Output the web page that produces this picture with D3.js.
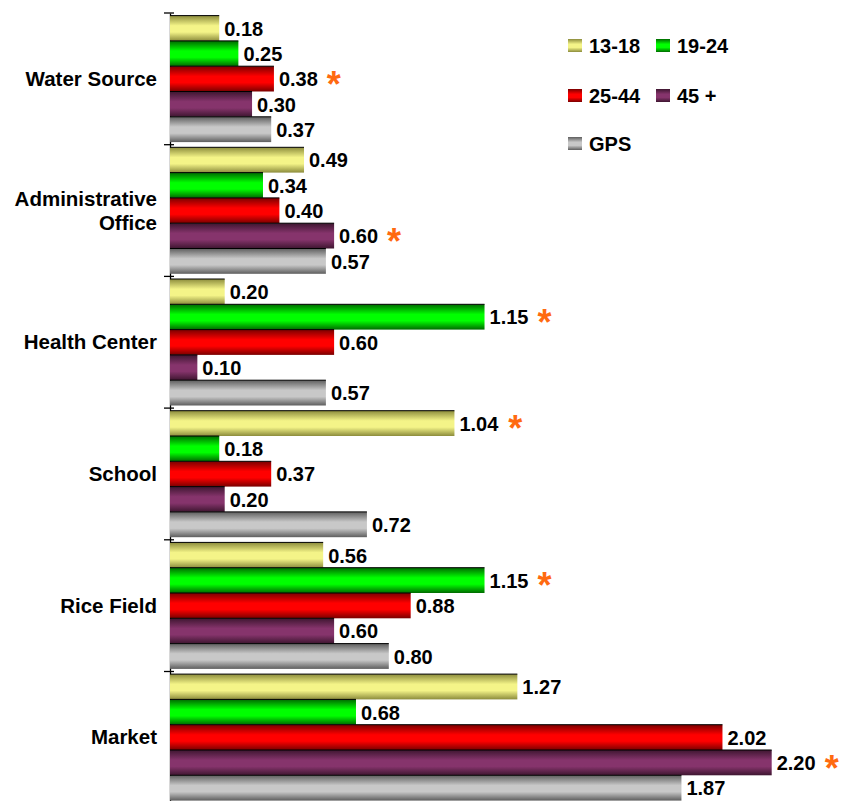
<!DOCTYPE html>
<html>
<head>
<meta charset="utf-8">
<script src="https://cdn.jsdelivr.net/npm/d3@7"></script>
<style>
  body { margin: 0; background: #fff; }
  text { font-family: "Liberation Sans", Arial, sans-serif; font-weight: bold; }
</style>
</head>
<body>
<script>
// categories and series
var categories = ["Water Source", "Administrative Office", "Health Center", "School", "Rice Field", "Market"];
var seriesNames = ["13-18", "19-24", "25-44", "45 +", "GPS"];
var v1318 = [0.18, 0.49, 0.20, 1.04, 0.56, 1.27];
var v1924 = [0.25, 0.34, 1.15, 0.18, 1.15, 0.68];
var v2544 = [0.38, 0.40, 0.60, 0.37, 0.88, 2.02];
var v45   = [0.30, 0.60, 0.10, 0.20, 0.60, 2.20];
var vGPS  = [0.37, 0.57, 0.57, 0.72, 0.80, 1.87];
// which series gets the orange asterisk, per category
var starred = ["25-44", "45 +", "19-24", "13-18", "19-24", "45 +"];

var seriesValues = [v1318, v1924, v2544, v45, vGPS];

// colours: [edge, centre] for the cylinder-like shading
var colors = {
  "13-18": ["#8c8c3c", "#f4f488"],
  "19-24": ["#006a00", "#00ff00"],
  "25-44": ["#7a0000", "#ff0000"],
  "45 +":  ["#3e1630", "#86346c"],
  "GPS":   ["#5e5e5e", "#c8c8c8"]
};

var width = 856, height = 801;
var x0 = 170;

var svg = d3.select("body").append("svg")
  .attr("width", width)
  .attr("height", height);

// gradients
var defs = svg.append("defs");
seriesNames.forEach(function(s, i) {
  var g = defs.append("linearGradient")
    .attr("id", "grad" + i)
    .attr("x1", 0).attr("y1", 0).attr("x2", 0).attr("y2", 1);
  g.append("stop").attr("offset", "0%").attr("stop-color", colors[s][0]);
  g.append("stop").attr("offset", "40%").attr("stop-color", colors[s][1]);
  g.append("stop").attr("offset", "65%").attr("stop-color", colors[s][1]);
  g.append("stop").attr("offset", "100%").attr("stop-color", colors[s][0]);
});

var xScale = d3.scaleLinear()
  .domain([0, 2.5])
  .range([x0, x0 + 2.5 * 273.5]);

var yScale = d3.scaleBand()
  .domain(categories)
  .range([13, 13 + 6 * 131.7])
  .paddingInner(0)
  .paddingOuter(0);

var inner = d3.scaleBand()
  .domain(seriesNames)
  .range([2.6, yScale.bandwidth() - 2.6]);

// y axis line with ticks at band boundaries
var axis = d3.axisLeft(yScale).tickSize(0).tickFormat("");
svg.append("g")
  .attr("transform", "translate(" + x0 + ",0)")
  .call(axis)
  .select(".domain").attr("stroke", "#000").attr("stroke-width", 1.3);

var boundaries = categories.map(function(c) { return yScale(c); });
svg.append("g").selectAll("line")
  .data(boundaries)
  .enter().append("line")
  .attr("x1", x0 - 6).attr("x2", x0 + 4)
  .attr("y1", function(d) { return d; })
  .attr("y2", function(d) { return d; })
  .attr("stroke", "#000")
  .attr("stroke-width", 1.3);

// category labels
svg.append("g").selectAll("text")
  .data(categories)
  .enter().append("text")
  .attr("text-anchor", "end")
  .attr("font-size", 20.5)
  .attr("fill", "#000")
  .each(function(c) {
    var t = d3.select(this);
    var cy = yScale(c) + yScale.bandwidth() / 2;
    var words = c === "Administrative Office" ? ["Administrative", "Office"] : [c];
    words.forEach(function(w, i) {
      t.append("tspan")
        .attr("x", 157)
        .attr("y", cy + 7 + (i - (words.length - 1) / 2) * 24)
        .text(w);
    });
  });

// bars
var rows = [];
categories.forEach(function(c, ci) {
  seriesNames.forEach(function(s, si) {
    rows.push({ cat: c, series: s, si: si, value: seriesValues[si][ci], star: starred[ci] === s });
  });
});

var bars = svg.append("g");
bars.selectAll("rect")
  .data(rows)
  .enter().append("rect")
  .attr("x", x0)
  .attr("y", function(d) { return yScale(d.cat) + inner(d.series); })
  .attr("width", function(d) { return xScale(d.value) - x0; })
  .attr("height", inner.bandwidth())
  .attr("fill", function(d) { return "url(#grad" + d.si + ")"; });

bars.selectAll("line")
  .data(rows)
  .enter().append("line")
  .attr("x1", x0)
  .attr("x2", function(d) { return xScale(d.value); })
  .attr("y1", function(d) { return yScale(d.cat) + inner(d.series); })
  .attr("y2", function(d) { return yScale(d.cat) + inner(d.series); })
  .attr("stroke", "#000")
  .attr("stroke-width", 1);

// value labels
var labels = svg.append("g").selectAll("text")
  .data(rows)
  .enter().append("text")
  .attr("x", function(d) { return xScale(d.value) + 5; })
  .attr("y", function(d) { return yScale(d.cat) + inner(d.series) + inner.bandwidth() / 2 + 7.5; })
  .attr("font-size", 20)
  .attr("fill", "#000")
  .text(function(d) { return d.value.toFixed(2); });

// asterisks
labels.each(function(d) {
  if (!d.star) return;
  var bb = this.getBBox();
  svg.append("text")
    .attr("x", bb.x + bb.width + 9)
    .attr("y", yScale(d.cat) + inner(d.series) + inner.bandwidth() / 2 + 18)
    .attr("font-size", 36)
    .attr("fill", "#ff6a10")
    .text("*");
});

// legend
var legendPos = [[568, 45], [656, 45], [568, 95], [656, 95], [568, 143]];
var legend = svg.append("g").selectAll("g")
  .data(seriesNames)
  .enter().append("g")
  .attr("transform", function(d, i) { return "translate(" + legendPos[i][0] + "," + legendPos[i][1] + ")"; });

legend.append("rect")
  .attr("x", 0).attr("y", -6)
  .attr("width", 14).attr("height", 13)
  .attr("fill", function(d, i) { return "url(#grad" + i + ")"; });

legend.append("text")
  .attr("x", 21)
  .attr("y", 8)
  .attr("font-size", 20)
  .attr("fill", "#000")
  .text(function(d) { return d; });
</script>
</body>
</html>
